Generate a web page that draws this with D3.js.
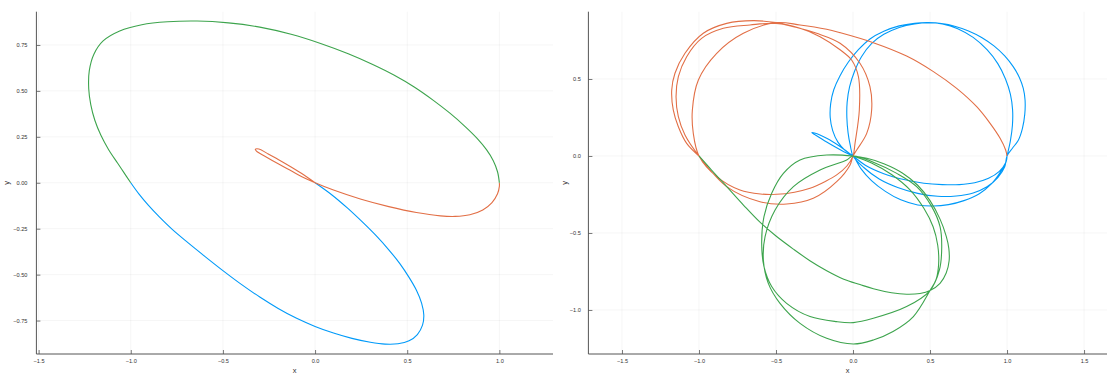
<!DOCTYPE html>
<html>
<head>
<meta charset="utf-8">
<script src="https://cdn.jsdelivr.net/npm/d3@7"></script>
<style>
  body { margin: 0; background: #fff; }
  text { font-family: "Liberation Sans", Arial, sans-serif; }
</style>
</head>
<body>
<div id="chart"></div>
<script>
// ---- tick values ----
const leftXTicks = [-1.5, -1.0, -0.5, 0.0, 0.5, 1.0];
const leftYTicks = [-0.75, -0.5, -0.25, 0.0, 0.25, 0.5, 0.75];
const rightXTicks = [-1.5, -1.0, -0.5, 0.0, 0.5, 1.0, 1.5];
const rightYTicks = [-1.0, -0.5, 0.0, 0.5];

// ---- left panel, [x, y] ----
const leftBlue = [[-1.0,0],[-0.955,-0.062],[-0.905,-0.122],[-0.845,-0.186],[-0.775,-0.254],[-0.69,-0.326],[-0.6,-0.399],
  [-0.5,-0.478],[-0.4,-0.553],[-0.3,-0.622],[-0.2,-0.684],[-0.1,-0.738],[0.0,-0.782],[0.1,-0.818],[0.2,-0.847],
  [0.3,-0.868],[0.38,-0.878],[0.45,-0.876],[0.51,-0.86],[0.555,-0.826],[0.583,-0.775],[0.59,-0.72],[0.578,-0.655],
  [0.55,-0.585],[0.51,-0.515],[0.46,-0.44],[0.4,-0.365],[0.33,-0.287],[0.255,-0.212],[0.175,-0.137],[0.09,-0.065],[0,0]];

const leftOrange = [[0,0],[-0.06,0.042],[-0.13,0.086],[-0.2,0.127],[-0.26,0.16],[-0.305,0.184],[-0.324,0.182],
  [-0.318,0.172],[-0.27,0.143],[-0.2,0.103],[-0.13,0.065],[-0.06,0.027],[0,0],
  [0.1,-0.04],[0.25,-0.09],[0.4,-0.13],[0.55,-0.162],[0.68,-0.18],[0.76,-0.183],[0.84,-0.174],[0.91,-0.148],
  [0.96,-0.108],[0.99,-0.06],[1.0,-0.02],[1.0,0]];

const leftGreen = [[1.0,0],[0.99,0.06],[0.967,0.12],[0.93,0.18],[0.878,0.243],[0.81,0.31],[0.73,0.38],[0.64,0.45],
  [0.54,0.52],[0.43,0.585],[0.31,0.645],[0.18,0.702],[0.03,0.758],[-0.13,0.808],[-0.3,0.847],[-0.47,0.87],
  [-0.64,0.88],[-0.8,0.876],[-0.94,0.86],[-1.06,0.826],[-1.15,0.772],[-1.2,0.7],[-1.225,0.61],[-1.228,0.51],
  [-1.217,0.425],[-1.195,0.34],[-1.162,0.258],[-1.12,0.18],[-1.07,0.105],[-1.037,0.055],[-1.0,0]];

// ---- right panel ----
const rightBlue = [[0,0],[-0.074,0.036],[-0.171,0.091],[-0.245,0.137],[-0.268,0.152],[-0.25,0.149],
  [-0.171,0.115],[-0.084,0.062],[0,0],
  [0.08,-0.06],[0.2,-0.115],[0.33,-0.153],[0.46,-0.177],[0.58,-0.186],[0.69,-0.186],[0.79,-0.174],[0.88,-0.145],
  [0.95,-0.1],[0.99,-0.045],[1.0,0],
  [1.022,0.1],[1.035,0.2],[1.036,0.3],[1.022,0.4],[0.99,0.5],[0.94,0.6],[0.87,0.69],[0.78,0.77],[0.68,0.827],
  [0.58,0.858],[0.49,0.866],
  [0.4,0.858],[0.3,0.835],[0.2,0.79],[0.12,0.73],[0.055,0.645],[0.01,0.55],[-0.022,0.45],[-0.038,0.35],
  [-0.04,0.25],[-0.032,0.15],[-0.018,0.07],[0,0],
  [0.07,-0.075],[0.17,-0.15],[0.29,-0.205],[0.42,-0.243],[0.55,-0.262],[0.67,-0.26],[0.78,-0.24],[0.87,-0.2],
  [0.94,-0.14],[0.985,-0.07],[1.0,0],
  [1.035,0.05],[1.074,0.104],[1.1,0.18],[1.115,0.27],[1.117,0.364],[1.105,0.44],[1.08,0.51],[1.04,0.58],
  [0.985,0.65],[0.915,0.715],[0.835,0.77],[0.75,0.812],[0.66,0.843],[0.575,0.86],[0.49,0.866],
  [0.4,0.862],[0.3,0.845],[0.2,0.81],[0.11,0.76],[0.035,0.69],[-0.03,0.61],[-0.085,0.52],[-0.125,0.43],
  [-0.145,0.34],[-0.148,0.25],[-0.132,0.165],[-0.098,0.09],[-0.05,0.035],[0,0],
  [0.05,-0.08],[0.12,-0.16],[0.21,-0.23],[0.31,-0.285],[0.42,-0.318],[0.52,-0.325],[0.62,-0.316],[0.72,-0.29],
  [0.82,-0.245],[0.9,-0.18],[0.96,-0.1],[0.995,-0.035],[1.0,0]];

const rightOrange = [[1.0,0],[0.991,0.039],[0.955,0.115],[0.89,0.212],[0.803,0.32],[0.673,0.439],[0.522,0.548],
  [0.348,0.649],[0.132,0.736],[-0.084,0.801],[-0.171,0.823],[-0.344,0.851],[-0.5,0.866],
  [-0.712,0.797],[-0.885,0.667],[-1.004,0.494],[-1.043,0.299],[-1.037,0.147],[-1.0,0],
  [-0.885,-0.134],[-0.734,-0.221],[-0.6,-0.247],[-0.496,-0.249],[-0.38,-0.235],[-0.279,-0.21],[-0.18,-0.165],
  [-0.106,-0.123],[-0.04,-0.065],[0,0],
  [0.013,0.082],[0.041,0.299],[0.035,0.515],[-0.009,0.623],[-0.084,0.69],[-0.214,0.775],[-0.344,0.829],[-0.5,0.861],
  [-0.669,0.851],[-0.842,0.829],[-0.983,0.764],[-1.08,0.645],[-1.134,0.515],[-1.149,0.385],[-1.134,0.255],
  [-1.091,0.136],[-1.0,0],
  [-0.82,-0.199],[-0.604,-0.297],[-0.431,-0.312],[-0.258,-0.275],[-0.106,-0.167],[-0.019,-0.058],[0,0],
  [0.024,0.039],[0.089,0.147],[0.121,0.299],[0.11,0.45],[0.045,0.602],[-0.084,0.732],[-0.236,0.797],
  [-0.387,0.84],[-0.5,0.866],
  [-0.647,0.879],[-0.82,0.861],[-0.972,0.797],[-1.091,0.667],[-1.156,0.537],[-1.177,0.429],[-1.167,0.299],
  [-1.134,0.19],[-1.08,0.082],[-1.0,0]];

const rightGreen = [[-1.0,0],[-0.92,-0.09],[-0.82,-0.199],[-0.71,-0.32],[-0.604,-0.43],[-0.5,-0.52],
  [-0.387,-0.605],[-0.28,-0.68],[-0.171,-0.745],[-0.06,-0.8],[0.045,-0.835],[0.132,-0.862],[0.25,-0.888],
  [0.348,-0.898],[0.435,-0.893],[0.5,-0.874],
  [0.565,-0.827],[0.605,-0.76],[0.624,-0.68],[0.622,-0.6],[0.605,-0.52],[0.565,-0.41],[0.5,-0.29],
  [0.42,-0.19],[0.32,-0.11],[0.2,-0.05],[0.09,-0.015],[0,0],
  [-0.171,0.006],[-0.344,-0.026],[-0.452,-0.113],[-0.528,-0.242],[-0.578,-0.394],[-0.593,-0.567],
  [-0.578,-0.719],[-0.528,-0.848],[-0.431,-0.957],[-0.279,-1.043],[-0.106,-1.076],[0.002,-1.082],
  [0.132,-1.054],[0.348,-0.978],[0.5,-0.874],
  [0.561,-0.74],[0.576,-0.589],[0.565,-0.459],[0.511,-0.329],[0.413,-0.199],[0.284,-0.113],[0.132,-0.04],[0,0],
  [-0.041,-0.026],[-0.214,-0.091],[-0.387,-0.199],[-0.506,-0.351],[-0.571,-0.524],[-0.582,-0.675],
  [-0.55,-0.827],[-0.474,-0.957],[-0.344,-1.087],[-0.171,-1.184],[0.002,-1.221],
  [0.132,-1.195],[0.26,-1.14],[0.392,-1.043],[0.5,-0.874],
  [0.54,-0.8],[0.556,-0.7],[0.55,-0.58],[0.52,-0.46],[0.46,-0.34],[0.37,-0.22],[0.25,-0.12],[0.12,-0.045],[0,0]];

const colors = { blue: '#009af9', orange: '#e26f46', green: '#3da44d' };

const W = 1107, H = 374;
const svg = d3.select('#chart').append('svg')
  .attr('width', W)
  .attr('height', H);
svg.append('rect').attr('width', W).attr('height', H).attr('fill', '#fff');

function drawPanel(p) {
  const x = d3.scaleLinear().domain(p.xDomain).range([p.left, p.right]);
  const y = d3.scaleLinear().domain(p.yDomain).range([p.bottom, p.top]);
  const g = svg.append('g');

  // grid
  g.selectAll('line.vgrid').data(p.xTicks).enter().append('line')
    .attr('x1', d => x(d)).attr('x2', d => x(d))
    .attr('y1', p.top).attr('y2', p.bottom)
    .attr('stroke', '#000').attr('stroke-opacity', 0.07).attr('stroke-width', 0.6);
  g.selectAll('line.hgrid').data(p.yTicks).enter().append('line')
    .attr('x1', p.left).attr('x2', p.right)
    .attr('y1', d => y(d)).attr('y2', d => y(d))
    .attr('stroke', '#000').attr('stroke-opacity', 0.07).attr('stroke-width', 0.6);

  // curves
  const line = d3.line()
    .x(d => x(d[0]))
    .y(d => y(d[1]))
    .curve(d3.curveCatmullRom.alpha(0.5));
  const clipId = 'clip' + Math.round(p.left);
  svg.append('clipPath').attr('id', clipId).append('rect')
    .attr('x', p.left).attr('y', p.top).attr('width', p.right - p.left).attr('height', p.bottom - p.top);
  const curves = g.append('g').attr('clip-path', `url(#${clipId})`);
  p.series.forEach(s => {
    curves.append('path')
      .datum(s.points)
      .attr('d', line)
      .attr('fill', 'none')
      .attr('stroke', s.color)
      .attr('stroke-width', 1.1)
      .attr('stroke-linejoin', 'round');
  });

  // axes
  const xAxis = d3.axisBottom(x).tickValues(p.xTicks).tickFormat(d3.format(p.xFormat))
    .tickSize(-4).tickSizeOuter(0).tickPadding(5);
  const yAxis = d3.axisLeft(y).tickValues(p.yTicks).tickFormat(d3.format(p.yFormat))
    .tickSize(-4).tickSizeOuter(0).tickPadding(p.yPad);

  const gx = g.append('g').attr('transform', `translate(0,${p.bottom})`).call(xAxis);
  const gy = g.append('g').attr('transform', `translate(${p.left},0)`).call(yAxis);
  [gx, gy].forEach(a => {
    a.select('.domain').attr('stroke', '#555').attr('stroke-width', 1);
    a.selectAll('.tick line').attr('stroke', '#555').attr('stroke-width', 0.8);
    a.selectAll('.tick text').attr('fill', '#333').style('font-size', '5.6px');
  });
  gx.select('.domain').attr('d', `M${p.left},0H${p.right}`);
  gy.select('.domain').attr('d', `M0,${p.bottom}V${p.top}`);

  // axis labels
  g.append('text')
    .attr('x', (p.left + p.right) / 2)
    .attr('y', 372.5)
    .attr('text-anchor', 'middle')
    .style('font-size', '7.5px')
    .attr('fill', '#333')
    .text('x');
  g.append('text')
    .attr('transform', `translate(${p.yLabelX},${(p.top + p.bottom) / 2}) rotate(-90)`)
    .attr('dy', '0.3em')
    .attr('text-anchor', 'middle')
    .style('font-size', '7.5px')
    .attr('fill', '#333')
    .text('y');
}

drawPanel({
  left: 36.4, right: 553, top: 11.7, bottom: 354,
  xDomain: [-1.512, 1.291], yDomain: [-0.932, 0.931],
  xTicks: leftXTicks, yTicks: leftYTicks, xFormat: '.1f', yFormat: '.2f', yPad: 9,
  yLabelX: 7,
  series: [
    { points: leftBlue, color: colors.blue },
    { points: leftOrange, color: colors.orange },
    { points: leftGreen, color: colors.green }
  ]
});

drawPanel({
  left: 588.4, right: 1107, top: 11.7, bottom: 354,
  xDomain: [-1.718, 1.649], yDomain: [-1.286, 0.937],
  xTicks: rightXTicks, yTicks: rightYTicks, xFormat: '.1f', yFormat: '.1f', yPad: 7.5,
  yLabelX: 565,
  series: [
    { points: rightBlue, color: colors.blue },
    { points: rightOrange, color: colors.orange },
    { points: rightGreen, color: colors.green }
  ]
});
</script>
</body>
</html>
